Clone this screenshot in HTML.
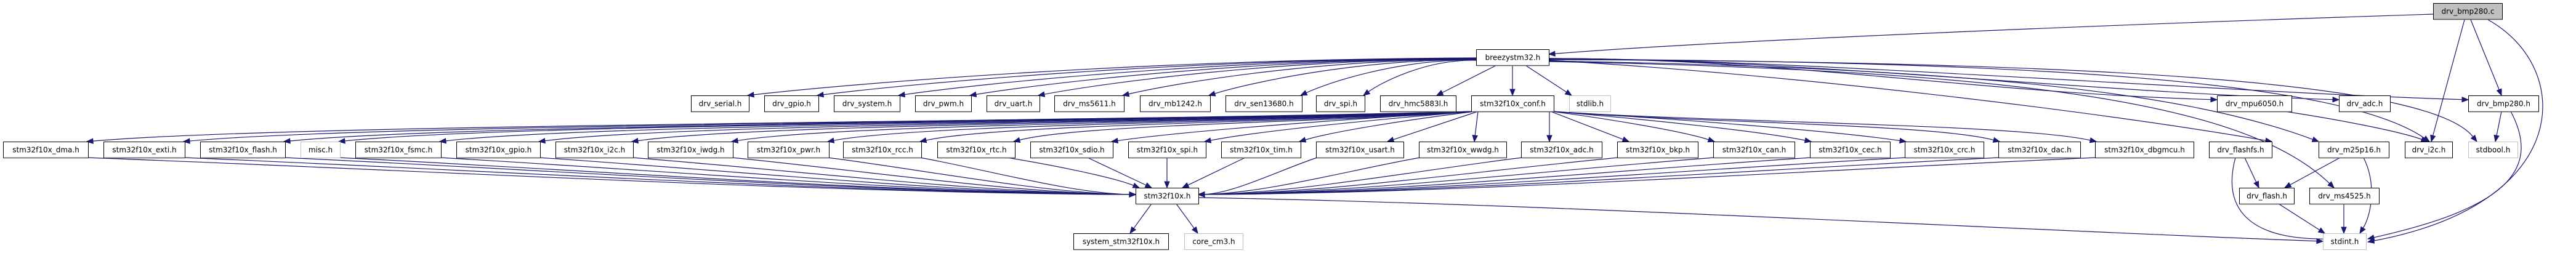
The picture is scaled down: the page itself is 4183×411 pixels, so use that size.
<!DOCTYPE html>
<html><head><meta charset="utf-8">
<style>
html,body{margin:0;padding:0;background:#fff;width:4183px;height:411px;overflow:hidden}
svg{display:block}
text{font-family:"DejaVu Sans","Liberation Sans",sans-serif;font-size:12px;fill:#000}
</style></head>
<body>
<svg id="g" width="4183" height="411" viewBox="0 0 4183 411" xmlns="http://www.w3.org/2000/svg"></svg>
<script>
var S=document.getElementById('g');var NS='http://www.w3.org/2000/svg';
var RY={A:5,B:80,C:155,D:230,E:305,F:379};var H=26;
var nodes=[
['drv_bmp280.c',3951,4063,'A','cur'],
['breezystm32.h',2397,2515,'B'],
['drv_serial.h',1122,1216,'C'],['drv_gpio.h',1241,1329,'C'],['drv_system.h',1354,1461,'C'],
['drv_pwm.h',1486,1577,'C'],['drv_uart.h',1602,1688,'C'],['drv_ms5611.h',1712,1825,'C'],
['drv_mb1242.h',1851,1965,'C'],['drv_sen13680.h',1990,2114,'C'],['drv_spi.h',2137,2216,'C'],
['drv_hmc5883l.h',2241,2364,'C'],['stm32f10x_conf.h',2389,2523,'C'],['stdlib.h',2548,2615,'C','ext'],
['drv_mpu6050.h',3600,3721,'C'],['drv_adc.h',3798,3881,'C'],['drv_bmp280.h',4008,4122,'C'],
['stm32f10x_dma.h',5,143,'D'],['stm32f10x_exti.h',168,300,'D'],['stm32f10x_flash.h',325,463,'D'],
['misc.h',488,552,'D','ext'],['stm32f10x_fsmc.h',577,716,'D'],['stm32f10x_gpio.h',741,877,'D'],
['stm32f10x_i2c.h',902,1028,'D'],['stm32f10x_iwdg.h',1052,1190,'D'],['stm32f10x_pwr.h',1214,1346,'D'],
['stm32f10x_rcc.h',1369,1496,'D'],['stm32f10x_rtc.h',1522,1648,'D'],['stm32f10x_sdio.h',1673,1807,'D'],
['stm32f10x_spi.h',1832,1958,'D'],['stm32f10x_tim.h',1983,2112,'D'],['stm32f10x_usart.h',2137,2279,'D'],
['stm32f10x_wwdg.h',2304,2446,'D'],['stm32f10x_adc.h',2470,2601,'D'],['stm32f10x_bkp.h',2626,2757,'D'],
['stm32f10x_can.h',2782,2914,'D'],['stm32f10x_cec.h',2939,3069,'D'],['stm32f10x_crc.h',3093,3221,'D'],
['stm32f10x_dac.h',3245,3378,'D'],['stm32f10x_dbgmcu.h',3402,3562,'D'],
['drv_flashfs.h',3587,3689,'D'],['drv_m25p16.h',3765,3879,'D'],['drv_i2c.h',3905,3982,'D'],['stdbool.h',4008,4088,'D','ext'],
['stm32f10x.h',1844,1946,'E'],['drv_flash.h',3636,3725,'E'],['drv_ms4525.h',3750,3863,'E'],
['system_stm32f10x.h',1743,1897,'F'],['core_cm3.h',1923,2018,'F','ext'],['stdint.h',3772,3842,'F','ext']
];
var N={};nodes.forEach(function(n){N[n[0]]=n;});
var C='#191970';
function el(t,a){var e=document.createElementNS(NS,t);for(var k in a)e.setAttribute(k,a[k]);S.appendChild(e);return e;}
function edge(x1,y1,x2,y2,c1,c2,w){
 if(!c1){var dx=x2-x1,dy=y2-y1;
  if(Math.abs(dx)>Math.abs(dy)*3){c1=[x1+dx*0.35,y1+dy*0.25];c2=[x1+dx*0.8,y2-dy*0.35];}
  else{c1=[x1+dx*0.33,y1+dy*0.33];c2=[x1+dx*0.66,y1+dy*0.66];}}
 var ux=x2-c2[0],uy=y2-c2[1],l=Math.hypot(ux,uy)||1;ux/=l;uy/=l;
 var L=10,bx=x2-ux*L,by=y2-uy*L;
 el('path',{d:'M'+x1+','+y1+' C'+c1[0]+','+c1[1]+' '+c2[0]+','+c2[1]+' '+bx+','+by,fill:'none',stroke:C,'stroke-width':w||1.2});
 el('polygon',{points:x2+','+y2+' '+(bx-uy*4)+','+(by+ux*4)+' '+(bx+uy*4)+','+(by-ux*4),fill:C,stroke:C});
}
var T=function(n){return RY[N[n][3]];},B=function(n){return RY[N[n][3]]+H;};
// bmp280.c
edge(3951,23,2515,88);
edge(4002,32,3948,230);
edge(4012,32,4062,155);
edge(4040,32,3845,393,[4180,110],[4180,330]);
// breezy -> row C left
['drv_serial.h','drv_gpio.h','drv_system.h','drv_pwm.h','drv_uart.h','drv_ms5611.h','drv_mb1242.h','drv_sen13680.h','drv_spi.h'].forEach(function(n,i){
 var x2=N[n][2]-2;edge(2397,94+i*0.5,x2,155,[2397-(2397-x2)*0.45,96],[x2+(2397-x2)*0.15,135]);});
edge(2430,106,2333,155);edge(2456,106,2456,155);edge(2477,106,2552,155);
// breezy -> right
[[3600,162],[3798,162],[4008,162]].forEach(function(p){edge(2515,95,p[0],p[1],[2900,95],[p[0]-400,150]);});
edge(2515,96,3945,230,[3300,100],[3800,130]);
edge(2515,97,4022,230,[3500,100],[3950,140]);
edge(2515,98,3689,230,[2900,120],[3400,180]);
edge(2515,99,3765,230,[3200,110],[3550,150]);
edge(2515,100,3790,305,[3300,115],[3650,170]);
// conf -> row D
nodes.filter(function(n){return n[3]=='D'&&n[1]<3580;}).forEach(function(n){
 var x2,y2=230,sx,sy=181;
 if(n[2]<2200){x2=n[2]-2;sx=2395;}
 else if(n[1]<2760){x2=({'stm32f10x_usart.h':2253,'stm32f10x_wwdg.h':2394,'stm32f10x_adc.h':2516,'stm32f10x_bkp.h':2645})[n[0]];sx=Math.min(Math.max(x2,2400),2518);}
 else{x2=n[1]+2;sx=2520;}
 if(Math.abs(x2-sx)>600) edge(sx,sy,x2,y2,[sx+(x2-sx)*0.3,sy+18],[x2+(sx-x2)*0.15,sy+20]);
 else edge(sx,sy,x2,y2);
});
// row D -> stm32f10x.h
nodes.filter(function(n){return n[3]=='D'&&n[1]<3580;}).forEach(function(n){
 var nm=n[0];
 if(nm=='stm32f10x_rtc.h')return edge(1635,256,1850,305);
 if(nm=='stm32f10x_sdio.h')return edge(1766,256,1870,305);
 if(nm=='stm32f10x_spi.h')return edge(1895,256,1895,305);
 if(nm=='stm32f10x_tim.h')return edge(2022,256,1920,305);
 if(n[2]<1830){var sx=n[2]-2;edge(sx,256,1844,316,[sx+(1844-sx)*0.3,275],[1844-(1844-sx)*0.3,314]);}
 else{var sx=n[1]+2;edge(sx,256,1946,316,[sx-(sx-1946)*0.3,275],[1946+(sx-1946)*0.3,314]);}
});
edge(1870,331,1835,379);edge(1910,331,1945,379);
edge(1946,321,3772,392,[2500,330],[3300,375]);
// right cluster
edge(3710,181,3942,230);
edge(3800,256,3710,305);
edge(3838,256,3832,379,[3860,300],[3850,350]);
edge(3630,256,3790,388,[3610,330],[3640,390]);
edge(3645,256,3668,305);
edge(3700,331,3775,379);
edge(3806,331,3806,379);
edge(4062,181,4052,230);
edge(4077,181,3845,388,[4130,280],[4060,340]);
// nodes
nodes.forEach(function(n){
 var y=RY[n[3]],x=n[1],w=n[2]-n[1];
 var ext=n[4]=='ext',cur=n[4]=='cur';
 el('rect',{x:x+0.5,y:y+0.5,width:w,height:H,fill:cur?'#bfbfbf':'#fff',stroke:ext?'#bfbfbf':'#000','stroke-width':1});
 if(!ext){el('line',{x1:x+1,y1:y+H+0.5,x2:x+w+0.5,y2:y+H+0.5,stroke:'#555','stroke-width':1.5});}
 var t=el('text',{x:x+w/2+0.5,y:y+17.5,'text-anchor':'middle'});t.textContent=n[0];
});
</script>
</body></html>
